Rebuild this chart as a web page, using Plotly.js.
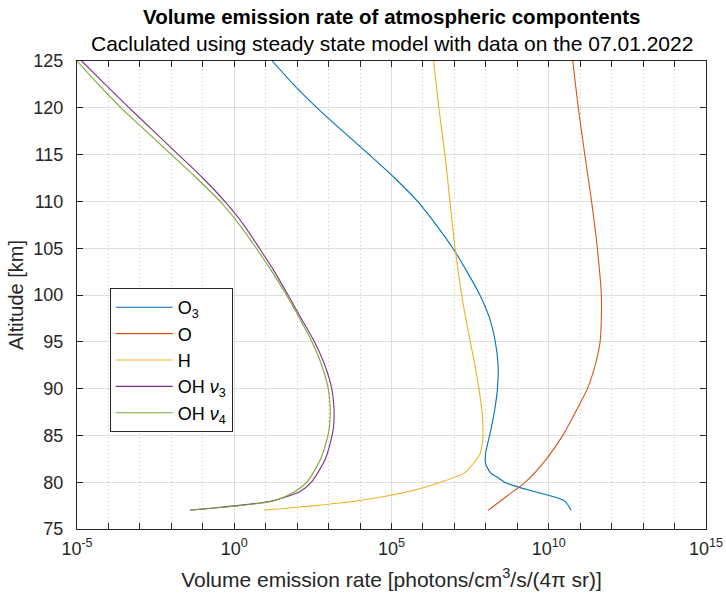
<!DOCTYPE html>
<html>
<head>
<meta charset="utf-8">
<script src="https://cdn.plot.ly/plotly-3.0.1.min.js"></script>
<style>html,body{margin:0;padding:0;background:#fff;}#chart{width:726px;height:605px;}</style>
</head>
<body>
<div id="chart"></div>
<script>
// Altitudes (km) and volume emission rates (photons/cm^3/s/(4pi sr))
var altO3 = [125, 122.5, 120, 117.5, 115, 112.5, 110, 107.5, 105, 102.5, 100, 97.5, 95, 92.5, 90, 87.5, 85, 84, 83, 82, 81, 80.5, 80, 79.5, 79, 78, 77];
var valO3 = [16.2, 75.9, 427, 2818, 1.95e4, 1.26e5, 6.76e5, 2.63e6, 8.91e6, 2.51e7, 6.46e7, 1.32e8, 2.0e8, 2.45e8, 2.34e8, 1.86e8, 1.32e8, 1.12e8, 9.77e7, 9.77e7, 1.41e8, 2.4e8, 3.98e8, 1.02e9, 3.47e9, 3.16e10, 5.13e10];

var altO = [125, 120, 115, 110, 105, 100, 97.5, 95, 92.5, 90, 87.5, 85, 82.5, 80, 78.5, 77];
var valO = [5.8e10, 8.7e10, 1.4e11, 2.3e11, 3.5e11, 4.7e11, 4.7e11, 4.3e11, 3.0e11, 1.7e11, 7.1e10, 2.8e10, 8.5e9, 1.8e9, 4.6e8, 1.2e8];

var altH = [125, 120, 115, 110, 105, 100, 97.5, 95, 92.5, 90, 87.5, 85, 84, 83, 82, 81, 80, 79, 78, 77];
var valH = [2.2e6, 3.2e6, 5.0e6, 7.2e6, 1.05e7, 1.7e7, 2.3e7, 3.2e7, 4.5e7, 6.0e7, 7.6e7, 8.1e7, 7.6e7, 6.5e7, 3.98e7, 2.1e7, 3.6e6, 3.5e5, 7.8e3, 8.9e0];

var altOH = [125, 122.5, 120, 117.5, 115, 112.5, 110, 107.5, 105, 102.5, 100, 97.5, 95, 92.5, 90, 88, 86, 85, 82.5, 80, 79, 78, 77];
var valOH3 = [1.41e-5, 7.9e-5, 4.57e-4, 2.75e-3, 1.66e-2, 0.1, 0.50, 2.0, 6.3, 19, 51.3, 135, 355, 759, 1259, 1479, 1445, 1288, 794, 282, 123, 15.8, 0.039];
var valOH4 = [1.0e-5, 4.8e-5, 2.5e-4, 1.58e-3, 1.0e-2, 6.3e-2, 0.355, 1.48, 5.0, 15.8, 45.7, 120, 295, 603, 977, 1122, 1072, 955, 562, 204, 85, 17.4, 0.039];

var seriesNames = ['O<sub>3</sub>', 'O', 'H', 'OH <i>ν</i><sub>3</sub>', 'OH <i>ν</i><sub>4</sub>'];
var seriesColors = ['#0072BD', '#D95319', '#EDB120', '#7E2F8E', '#77AC30'];

var xTickVals = [1e-5, 1e0, 1e5, 1e10, 1e15];
var xTickText = ['10<sup>-5</sup>', '10<sup>0</sup>', '10<sup>5</sup>', '10<sup>10</sup>', '10<sup>15</sup>'];
var xMinorVals = [1e-4, 1e-3, 1e-2, 1e-1, 1e1, 1e2, 1e3, 1e4, 1e6, 1e7, 1e8, 1e9, 1e11, 1e12, 1e13, 1e14];

var xs = [valO3, valO, valH, valOH3, valOH4];
var ys = [altO3, altO, altH, altOH, altOH];
var traces = xs.map(function (x, i) {
  return {
    x: x, y: ys[i], type: 'scatter', mode: 'lines', name: seriesNames[i],
    line: {color: seriesColors[i], width: 1.1, shape: 'spline', smoothing: 0.7}
  };
});

var font = 'Liberation Sans, Arial, sans-serif';
var layout = {
  width: 726, height: 605,
  margin: {l: 77, r: 20, t: 61, b: 76},
  paper_bgcolor: '#fff', plot_bgcolor: '#fff',
  font: {family: font, color: '#262626', size: 17},
  showlegend: true,
  legend: {
    x: 0.052, y: 0.515, xanchor: 'left', yanchor: 'top',
    bgcolor: '#fff', bordercolor: '#262626', borderwidth: 1,
    font: {size: 18, family: font, color: '#000'},
    itemwidth: 57, tracegroupgap: 0
  },
  xaxis: {
    type: 'log', range: [-5, 15],
    tickvals: xTickVals, ticktext: xTickText,
    ticks: 'inside', ticklen: 6, tickcolor: '#262626',
    showline: true, linecolor: '#262626', linewidth: 1, mirror: 'ticks',
    showgrid: true, gridcolor: '#dedede', gridwidth: 1,
    zeroline: false, ticklabelstandoff: 3,
    tickfont: {size: 18, color: '#262626'},
    minor: {
      tickvals: xMinorVals,
      ticks: 'inside', ticklen: 6, tickcolor: '#262626',
      showgrid: true, gridcolor: '#c4c4c4', griddash: '1px,3px', gridwidth: 1
    },
    title: {text: 'Volume emission rate [photons/cm<sup>3</sup>/s/(4π sr)]', font: {size: 21, color: '#262626'}, standoff: 14}
  },
  yaxis: {
    range: [75, 125], dtick: 5, tick0: 75,
    ticks: 'inside', ticklen: 6, tickcolor: '#262626',
    showline: true, linecolor: '#262626', linewidth: 1, mirror: 'ticks',
    showgrid: true, gridcolor: '#dedede', gridwidth: 1,
    zeroline: false, ticklabelstandoff: 9,
    tickfont: {size: 18, color: '#262626'},
    title: {text: 'Altitude [km]', font: {size: 20, color: '#262626'}, standoff: 4}
  },
  annotations: [
    {text: '<b>Volume emission rate of atmospheric compontents</b>', xref: 'paper', yref: 'paper',
     x: 0.5, y: 1, yshift: 45, xanchor: 'center', yanchor: 'middle', showarrow: false,
     font: {size: 20.5, color: '#000', family: font}},
    {text: 'Caclulated using steady state model with data on the 07.01.2022', xref: 'paper', yref: 'paper',
     x: 0.5, y: 1, yshift: 18, xanchor: 'center', yanchor: 'middle', showarrow: false,
     font: {size: 21, color: '#000', family: font}}
  ]
};

Plotly.newPlot('chart', traces, layout, {displayModeBar: false, staticPlot: true});
</script>
</body>
</html>
